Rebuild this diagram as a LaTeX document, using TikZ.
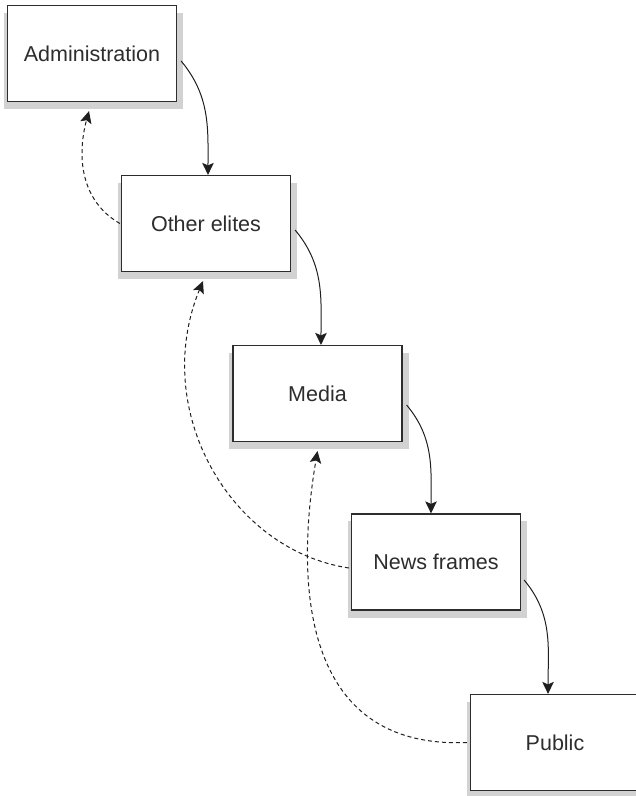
\documentclass[tikz,border=0pt]{standalone}
\usepackage{fontspec}
\setmainfont{Liberation Sans}
\usetikzlibrary{arrows.meta,backgrounds}

\definecolor{boxline}{RGB}{45,45,45}
\definecolor{boxshade}{RGB}{210,210,210}
\definecolor{boxtext}{RGB}{45,45,45}

\tikzset{
  box/.style={draw=boxline, line width=1.2bp, fill=white, minimum width=169bp,
    minimum height=96bp, inner sep=0pt, text=boxtext,
    font=\fontsize{21.5bp}{24bp}\selectfont},
  flow/.style={line width=1bp, draw=black!88,
    -{Stealth[length=12bp,width=11.5bp,inset=2.5bp]}},
  back/.style={flow, dash pattern=on 4bp off 3bp},
}

\begin{document}
\begin{tikzpicture}[x=1bp,y=1bp]
  \useasboundingbox (0,0) rectangle (636,-796);

  % the five stages
  \node[box] (adm)  at (92,-53.5)    {Administration};
  \node[box] (oth)  at (206,-223.5)  {Other elites};
  \node[box] (med)  at (317.5,-393.5) {Media};
  \node[box] (news) at (436,-562)    {News frames};
  \node[box] (pub)  at (555,-742.5)  {Public};

  % shadows behind the boxes
  \begin{scope}[on background layer]
    \foreach \n in {adm,oth,med,news,pub}
      \fill[boxshade] ([shift={(-3,-8)}]\n.north west) rectangle ([shift={(6,-7)}]\n.south east);
  \end{scope}

  % cascade downwards
  \draw[flow] ([shift={(4,-7.5)}]adm.east) to[out=-50,in=90] ([xshift=2]oth.north);
  \draw[flow] ([shift={(4,-6.5)}]oth.east) to[out=-50,in=90] ([xshift=3.5]med.north);
  \draw[flow] ([shift={(4,-11.5)}]med.east) to[out=-50,in=90] ([xshift=-5]news.north);
  \draw[flow] ([shift={(3,-18)}]news.east) to[out=-50,in=90] ([xshift=-7]pub.north);

  % feedback
  \draw[back] ([xshift=-1]oth.west) .. controls +(-40,23) and +(-12,-44) .. ([shift={(-3,-9)}]adm.south);
  \draw[back] ([shift={(-2,-6)}]news.west) .. controls +(-119,18) and +(-53,-129) .. ([shift={(-3,-9)}]oth.south);
  \draw[back] ([xshift=-3]pub.west) .. controls +(-167,-7) and +(-22,-129) .. ([yshift=-9]med.south);
\end{tikzpicture}
\end{document}
